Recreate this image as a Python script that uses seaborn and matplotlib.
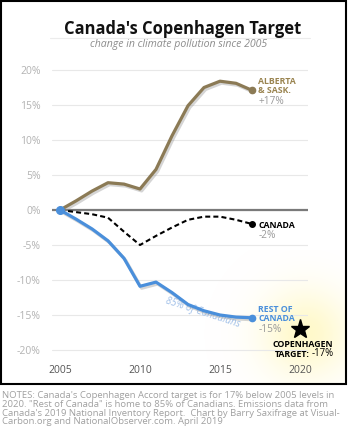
import matplotlib
matplotlib.use('Agg')
import matplotlib.pyplot as plt
import matplotlib.patheffects as pe
from matplotlib.patches import Rectangle
import numpy as np
import pandas as pd
import seaborn as sns

# change in emissions since 2005, %
years = [2005, 2006, 2007, 2008, 2009, 2010, 2011, 2012, 2013, 2014, 2015, 2016, 2017]
alberta_sask = [0, 1.3, 2.7, 3.9, 3.7, 3.0, 5.8, 10.6, 14.9, 17.5, 18.4, 18.1, 17.1]
canada = [0, -0.3, -0.6, -1.1, -3.1, -5.0, -3.7, -2.5, -1.4, -0.95, -0.95, -1.4, -2.0]
rest_of_canada = [0, -1.3, -2.7, -4.4, -6.9, -10.9, -10.3, -11.8, -13.5, -14.4, -15.0, -15.3, -15.4]
target_year = 2020
target_value = -17

y_ticks = [-20, -15, -10, -5, 0, 5, 10, 15, 20]
x_ticks = [2005, 2010, 2015, 2020]

title = "Canada's Copenhagen Target"
subtitle = "change in climate pollution since 2005"
notes_lines = [
    "NOTES: Canada's Copenhagen Accord target is for 17% below 2005 levels in",
    "2020. \"Rest of Canada\" is home to 85% of Canadians. Emissions data from",
    "Canada's 2019 National Inventory Report.  Chart by Barry Saxifrage at Visual-",
    "Carbon.org and NationalObserver.com. April 2019",
]

GOLD = '#8b7a55'
GOLD_TXT = '#9a8450'
BLUE = '#4a8fdb'
GREY_TXT = '#999999'
LABEL_SIZE = 6.3
VALUE_SIZE = 7.3

df = pd.DataFrame({'year': years, 'alberta_sask': alberta_sask,
                   'canada': canada, 'rest_of_canada': rest_of_canada})

sns.set_style('white')
plt.rcParams['font.family'] = ['Open Sans', 'DejaVu Sans']

fig = plt.figure(figsize=(3.5, 4.34), dpi=100)

# background layer: glow around the target, frame, title rule
bg = fig.add_axes([0, 0, 1, 1], zorder=-1)
gx, gy = np.meshgrid(np.linspace(200, 345, 150), np.linspace(250, 383, 140))
r = np.hypot(gx - 306, gy - 334)
img = np.zeros(gx.shape + (4,))
img[..., 0] = 1.0
img[..., 1] = 0.975
img[..., 2] = 0.76
img[..., 3] = 0.85 * np.exp(-(r / 44.0) ** 2)
bg.imshow(img, extent=(200, 345, 383, 250), interpolation='bilinear', aspect='auto')
bg.add_patch(Rectangle((1, 1), 344.5, 383, fill=False, ec='black', lw=1.5))
bg.plot([50, 310], [37.5, 37.5], color='#ececec', lw=0.8)
bg.set_xlim(0, 350)
bg.set_ylim(434, 0)
bg.axis('off')

ax = fig.add_axes([52 / 350, (434 - 352.1) / 434, 256 / 350, 284.2 / 434])
ax.set_facecolor('none')
ax.set_axisbelow(True)

shadow = [pe.SimpleLineShadow(offset=(1.2, -1.4), shadow_color='#888888', alpha=0.35), pe.Normal()]
sns.lineplot(data=df, x='year', y='alberta_sask', ax=ax, color=GOLD, lw=2.3,
             path_effects=shadow, zorder=3)
sns.lineplot(data=df, x='year', y='canada', ax=ax, color='black', lw=1.5,
             linestyle=(0, (2.4, 1.5)), zorder=4)
sns.lineplot(data=df, x='year', y='rest_of_canada', ax=ax, color=BLUE, lw=2.3,
             path_effects=shadow, zorder=3)

ax.plot(years[-1], alberta_sask[-1], 'o', ms=4.5, color=GOLD, zorder=5)
ax.plot(years[-1], canada[-1], 'o', ms=4, color='black', zorder=5)
ax.plot(years[-1], rest_of_canada[-1], 'o', ms=4.5, color=BLUE, zorder=5)
ax.plot(years[0], rest_of_canada[0], 'o', ms=5.5, color=BLUE, zorder=5)
ax.plot(target_year, target_value, marker='*', ms=14, color='black', clip_on=False, zorder=6)

ax.axhline(0, color='#7a7a7a', lw=1.6, zorder=2)

ax.set_xlim(2004.5, 2020.5)
ax.set_ylim(-20.3, 20.3)
ax.set_yticks(y_ticks)
ax.set_yticklabels([f'{v}%' for v in y_ticks])
ax.set_xticks(x_ticks)
ax.set_xticklabels([str(v) for v in x_ticks])
ax.tick_params(axis='y', length=0, pad=8, labelsize=7.5, labelcolor='#b3b3b3')
ax.tick_params(axis='x', length=0, pad=9, labelsize=7.5, labelcolor='#555555')
ax.grid(axis='y', color='#e8e8e8', lw=0.8)
ax.grid(axis='x', visible=False)
ax.set_xlabel('')
ax.set_ylabel('')
sns.despine(ax=ax, left=True, bottom=True)

# end labels
lx = years[-1] + 0.4
label_kw = dict(fontsize=LABEL_SIZE, fontweight='bold', va='baseline', ha='left', zorder=6)
value_kw = dict(fontsize=VALUE_SIZE, color=GREY_TXT, va='baseline', ha='left', zorder=6)

ax.text(lx, alberta_sask[-1] + 0.95, 'ALBERTA', color=GOLD_TXT, **label_kw)
ax.text(lx, alberta_sask[-1] - 0.4, '& SASK.', color=GOLD_TXT, **label_kw)
ax.text(lx, alberta_sask[-1] - 1.9, f'+{alberta_sask[-1]:.0f}%', **value_kw)

ax.text(lx, canada[-1] - 0.5, 'CANADA', color='black', **label_kw)
ax.text(lx, canada[-1] - 1.95, f'{canada[-1]:.0f}%', **value_kw)

ax.text(lx, rest_of_canada[-1] + 0.8, 'REST OF', color=BLUE, **label_kw)
ax.text(lx, rest_of_canada[-1] - 0.45, 'CANADA', color=BLUE, **label_kw)
ax.text(lx, rest_of_canada[-1] - 2.0, f'{rest_of_canada[-1]:.0f}%', **value_kw)

ax.text(target_year + 0.15, target_value - 2.55, 'COPENHAGEN', color='black',
        clip_on=False, **dict(label_kw, ha='center'))
tgt = ax.text(target_year - 1.6, target_value - 4.05, 'TARGET:', color='black',
              clip_on=False, **label_kw)
ax.annotate(f'{target_value}%', xy=(1, 0), xycoords=tgt, xytext=(2, 0),
            textcoords='offset points', fontsize=6.9, color='black',
            ha='left', va='bottom', zorder=6)

ax.text(2013.9, -14.75, '85% of Canadians', rotation=-18, rotation_mode='anchor',
        ha='center', va='center', style='italic', fontsize=7, color='#9fbfe8', zorder=2)

fig.text(0.521, 0.9217, title, ha='center', va='baseline', fontsize=11.9,
         fontweight='bold', color='#111111')
fig.text(0.511, 0.8925, subtitle, ha='center', va='baseline', fontsize=7.6,
         style='italic', color='#8c8c8c')

for i, line in enumerate(notes_lines):
    fig.text(2 / 350, (434 - 398.5 - i * 8.6) / 434, line, ha='left', va='baseline',
             fontsize=6.8, color='#a0a0a0')

fig.savefig('out.png', dpi=100)
